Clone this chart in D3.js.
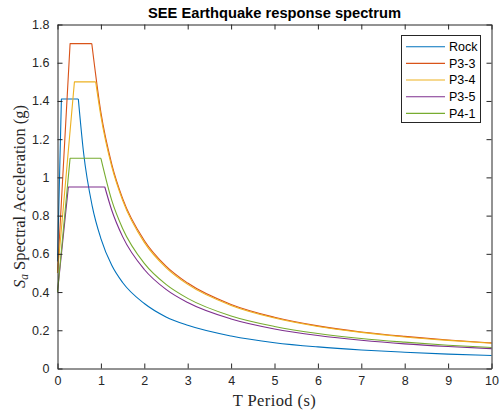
<!DOCTYPE html>
<html lang="en">
<head>
    <meta charset="UTF-8">
    <title>SEE Earthquake response spectrum</title>
    <style>
        body { margin: 0; background: #fff; }
        svg { display: block; }
    </style>
</head>
<body>
    <div id="chartContainer"></div>

    <script src="https://d3js.org/d3.v7.min.js"></script>
    <script>
        // Series names and colours (MATLAB default order)
        const seriesNames = ["Rock", "P3-3", "P3-4", "P3-5", "P4-1"];
        const seriesColors = ["#0072BD", "#D95319", "#EDB120", "#7E2F8E", "#77AC30"];

        // Ramp + plateau corner points, [T, Sa]
        const rockRamp = [[0, 0.56], [0.09, 1.41], [0.48, 1.41]];
        const p33Ramp = [[0, 0.50], [0.29, 1.70], [0.79, 1.70]];
        const p34Ramp = [[0, 0.50], [0.39, 1.50], [0.88, 1.50]];
        const p35Ramp = [[0, 0.40], [0.25, 0.95], [1.09, 0.95]];
        const p41Ramp = [[0, 0.40], [0.29, 1.10], [1.00, 1.10]];

        // Descending branch, [T, Sa]
        const rockTail = [[0.48, 1.41], [0.6, 1.13], [0.8, 0.85], [1.0, 0.68], [1.25, 0.54], [1.5, 0.45],
            [2, 0.34], [2.5, 0.27], [3, 0.226], [4, 0.17], [5, 0.135], [6, 0.113], [7, 0.097],
            [8, 0.085], [9, 0.075], [10, 0.068]];
        const p33Tail = [[0.79, 1.70], [1.0, 1.34], [1.25, 1.07], [1.5, 0.89], [2, 0.67], [2.5, 0.536],
            [3, 0.447], [4, 0.335], [5, 0.268], [6, 0.223], [7, 0.191], [8, 0.168], [9, 0.149], [10, 0.134]];
        const p34Tail = [[0.88, 1.50], [1.0, 1.32], [1.25, 1.056], [1.5, 0.88], [2, 0.66], [2.5, 0.528],
            [3, 0.44], [4, 0.33], [5, 0.264], [6, 0.22], [7, 0.189], [8, 0.165], [9, 0.147], [10, 0.132]];
        const p35Tail = [[1.09, 0.95], [1.25, 0.828], [1.5, 0.69], [2, 0.518], [2.5, 0.414], [3, 0.345],
            [4, 0.259], [5, 0.207], [6, 0.173], [7, 0.148], [8, 0.129], [9, 0.115], [10, 0.104]];
        const p41Tail = [[1.0, 1.10], [1.25, 0.88], [1.5, 0.733], [2, 0.55], [2.5, 0.44], [3, 0.367],
            [4, 0.275], [5, 0.22], [6, 0.183], [7, 0.157], [8, 0.138], [9, 0.122], [10, 0.11]];

        const ramps = [rockRamp, p33Ramp, p34Ramp, p35Ramp, p41Ramp];
        const tails = [rockTail, p33Tail, p34Tail, p35Tail, p41Tail];

        // Ticks
        const xTicks = [0, 1, 2, 3, 4, 5, 6, 7, 8, 9, 10];
        const yTicks = [0, 0.2, 0.4, 0.6, 0.8, 1, 1.2, 1.4, 1.6, 1.8];

        const W = 500, H = 410;
        const margin = {top: 24.5, right: 8.5, bottom: 41.5, left: 57.5};
        const width = W - margin.left - margin.right;
        const height = H - margin.top - margin.bottom;
        const axisColor = "#262626";

        const svg = d3.select("#chartContainer")
            .append("svg")
                .attr("width", W)
                .attr("height", H);

        const g = svg.append("g")
            .attr("transform", "translate(" + margin.left + "," + margin.top + ")");

        const x = d3.scaleLinear().domain([0, 10]).range([0, width]);
        const y = d3.scaleLinear().domain([0, 1.8]).range([height, 0]);

        const fmt = d => String(+d.toFixed(1));

        // Curves: straight ramp/plateau, smooth 1/T-like tail
        const lineLin = d3.line().x(d => x(d[0])).y(d => y(d[1]));
        const lineSmooth = d3.line().curve(d3.curveMonotoneX).x(d => x(d[0])).y(d => y(d[1]));

        seriesNames.forEach((name, i) => {
            g.append("path")
                .attr("fill", "none")
                .attr("stroke", seriesColors[i])
                .attr("stroke-width", 1.1)
                .attr("stroke-linejoin", "round")
                .attr("d", lineLin(ramps[i]) + lineSmooth(tails[i]));
        });

        // Axes (ticks inside, box on)
        function styleAxis(sel) {
            sel.select(".domain").attr("stroke", axisColor);
            sel.selectAll(".tick line").attr("stroke", axisColor);
            sel.selectAll("text")
                .attr("fill", axisColor)
                .style("font-family", "'Liberation Sans', Arial, sans-serif")
                .style("font-size", "12.5px");
        }

        g.append("g")
            .attr("transform", "translate(0," + height + ")")
            .call(d3.axisBottom(x).tickValues(xTicks).tickFormat(fmt).tickSizeInner(-5).tickSizeOuter(0).tickPadding(8))
            .call(styleAxis);

        g.append("g")
            .call(d3.axisLeft(y).tickValues(yTicks).tickFormat(fmt).tickSizeInner(-5).tickSizeOuter(0).tickPadding(8))
            .call(styleAxis);

        g.append("g")
            .call(d3.axisTop(x).tickValues(xTicks).tickFormat("").tickSizeInner(-5).tickSizeOuter(0))
            .call(styleAxis);

        g.append("g")
            .attr("transform", "translate(" + width + ",0)")
            .call(d3.axisRight(y).tickValues(yTicks).tickFormat("").tickSizeInner(-5).tickSizeOuter(0))
            .call(styleAxis);

        // Title
        svg.append("text")
            .attr("x", margin.left + width / 2)
            .attr("y", 18)
            .attr("text-anchor", "middle")
            .attr("fill", "#000")
            .style("font-family", "'Liberation Sans', Arial, sans-serif")
            .style("font-size", "14.7px")
            .style("font-weight", "bold")
            .text("SEE Earthquake response spectrum");

        // X label
        svg.append("text")
            .attr("x", margin.left + width / 2)
            .attr("y", 406)
            .attr("text-anchor", "middle")
            .attr("fill", axisColor)
            .style("font-family", "'Liberation Serif', 'DejaVu Serif', serif")
            .style("font-size", "16.5px")
            .style("letter-spacing", "0.4px")
            .text("T Period (s)");

        // Y label
        const ylab = svg.append("text")
            .attr("transform", "translate(25," + (margin.top + height / 2) + ") rotate(-90)")
            .attr("text-anchor", "middle")
            .attr("fill", axisColor)
            .style("font-family", "'Liberation Serif', 'DejaVu Serif', serif")
            .style("font-size", "16.5px");
        ylab.append("tspan").attr("font-style", "italic").text("S");
        ylab.append("tspan").attr("font-style", "italic").attr("font-size", "11.5px").attr("dy", 3).text("a");
        ylab.append("tspan").attr("dy", -3).text(" Spectral Acceleration (g)");

        // Legend
        const legend = svg.append("g").attr("transform", "translate(401.5,35.5)");
        legend.append("rect")
            .attr("width", 79)
            .attr("height", 87)
            .attr("fill", "#fff")
            .attr("stroke", axisColor)
            .attr("stroke-width", 1);

        seriesNames.forEach((name, i) => {
            const row = legend.append("g").attr("transform", "translate(0," + (11.2 + i * 16.67) + ")");
            row.append("line")
                .attr("x1", 4.5).attr("x2", 43.5)
                .attr("stroke", seriesColors[i])
                .attr("stroke-width", 1.1);
            row.append("text")
                .attr("x", 47.5)
                .attr("dy", "0.35em")
                .attr("fill", "#000")
                .style("font-family", "'Liberation Sans', Arial, sans-serif")
                .style("font-size", "12.5px")
                .text(name);
        });
    </script>
</body>
</html>
